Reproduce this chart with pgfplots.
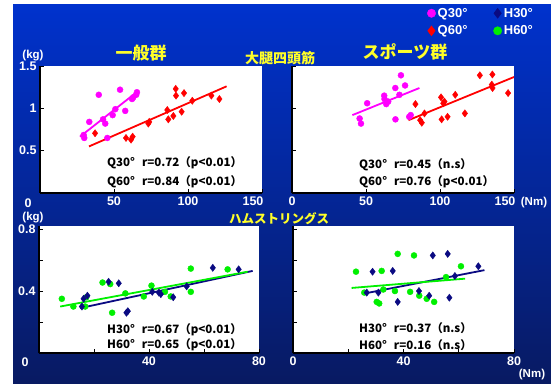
\documentclass[border=0pt]{standalone}
\usepackage{fontspec}
\setmainfont{Liberation Sans}
\newfontfamily\jp{Noto Sans CJK JP}
\usepackage{pgfplots}
\pgfplotsset{compat=1.18}
\definecolor{bgtop}{RGB}{0,50,205}
\definecolor{bgbot}{RGB}{8,26,98}
\definecolor{qa}{RGB}{255,0,255}
\definecolor{qb}{RGB}{255,0,0}
\definecolor{ha}{RGB}{10,10,130}
\definecolor{hb}{RGB}{0,240,0}
\definecolor{ttl}{RGB}{255,255,40}
\pgfplotsset{panel/.style={
  scale only axis, width=222pt, height=127pt,
  axis background/.style={fill=white},
  axis x line*=bottom, axis y line*=left,
  axis line style={black, line width=1.3pt, -},
  tick align=inside, major tick length=4pt, tick style={black, line width=0.9pt},
  ticklabel style={text=white, font=\bfseries\fontsize{12.5}{12.5}\selectfont},
  /pgf/number format/assume math mode=true,
  xmin=0, ymin=0,
},
pa/.style={only marks, mark=*, mark size=3pt, color=qa},
pb/.style={only marks, mark=diamond*, mark size=3.6pt, color=qb},
pc/.style={only marks, mark=diamond*, mark size=3.6pt, color=ha},
pd/.style={only marks, mark=*, mark size=3pt, color=hb},
}
\newcommand{\gap}{\hspace{7pt}}
\begin{document}
\begin{tikzpicture}[x=1pt,y=1pt]
\useasboundingbox (0pt,0pt) rectangle (551pt,383pt);
\fill[white] (0pt,0pt) rectangle (551pt,383pt);
\shade[top color=bgtop, bottom color=bgbot] (13pt,0pt) rectangle (551pt,378pt);

% Top-left: general group, quadriceps
\begin{axis}[panel, at={(40pt,190pt)}, anchor=south west, xmax=150, ymax=1.5,
  xtick={0,50,100,150}, xticklabels={,50,100,\hspace{-18pt}150},
  ytick={0,0.5,1,1.5}, yticklabels={,0.5,1,\raisebox{-4pt}{1.5}}]
\addplot[pa] coordinates {(29.5,0.685) (29.9,0.65) (33.3,0.84) (39.7,1.16) (42.6,0.87) (44.1,0.82) (45.5,0.65) (49.1,0.92) (50.9,0.99) (54.1,1.22) (57.6,0.97) (62.2,1.11) (63,1.13) (65,1.16) (65.5,1.19)};
\addplot[pb] coordinates {(37.2,0.705) (58.1,0.65) (61.5,0.63) (62.6,0.665) (73.2,0.82) (73.8,0.84) (86,0.98) (86.7,0.87) (90.1,0.91) (91.7,1.23) (91.9,1.15) (95.7,0.96) (97.3,1.18) (102.9,1.09) (115.8,1.15) (121.2,1.11)};
\addplot[qa, line width=1.8pt] coordinates {(27,0.665) (66,1.20)};
\addplot[qb, line width=1.8pt] coordinates {(33.1,0.55) (126.1,1.26)};
\end{axis}

% Top-right: sports group, quadriceps
\begin{axis}[panel, at={(292pt,190pt)}, anchor=south west, xmax=150, ymax=1.5,
  xtick={0,50,100,150}, xticklabels={0,50,100,\hspace{-18pt}150},
  ytick={0,0.5,1,1.5}, yticklabels={},
  legend columns=2,
  legend style={at={(0.595,1.49)}, anchor=north west, draw=none, fill=none,
    text=white, font=\bfseries\fontsize{13}{13}\selectfont,
    /tikz/every even column/.append style={column sep=24pt}, row sep=3pt}]
\addplot[pa, forget plot] coordinates {(45.7,0.88) (46.6,0.82) (50.8,1.06) (62.3,1.15) (62.5,1.11) (63.7,1.05) (65,1.08) (69.9,0.87) (69.8,1.24) (73.6,1.39) (76.4,1.27) (72.6,1.16) (80.2,0.92) (79.2,0.90)};
\addplot[pb, forget plot] coordinates {(83.4,1.05) (86.6,0.86) (87.7,0.83) (89.5,0.94) (100.7,1.13) (101.1,0.87) (102.2,1.06) (103,1.08) (105.1,0.9) (110.3,1.16) (116.8,0.94) (126.9,1.39) (135.4,1.40) (135,1.28) (135.5,1.24) (146,1.18)};
\addplot[qa, line width=1.8pt, forget plot] coordinates {(40.8,0.92) (86.1,1.24)};
\addplot[qb, line width=1.8pt, forget plot] coordinates {(78.7,0.86) (150,1.37)};
\addlegendimage{only marks, mark=*, mark size=4.2pt, color=qa}
\addlegendentry{Q30°}
\addlegendimage{only marks, mark=diamond*, mark size=5pt, color=ha}
\addlegendentry{H30°}
\addlegendimage{only marks, mark=diamond*, mark size=5pt, color=qb}
\addlegendentry{Q60°}
\addlegendimage{only marks, mark=*, mark size=4.2pt, color=hb}
\addlegendentry{H60°}
\end{axis}

% Bottom-left: general group, hamstrings
\begin{axis}[panel, at={(39pt,30pt)}, anchor=south west, width=220pt, xmax=80, ymax=0.82,
  xtick={0,20,40,60,80}, xticklabels={,,40,,80},
  ytick={0,0.2,0.4,0.6,0.8}, yticklabels={,,0.4,,\raisebox{-3pt}{0.8}}]
\addplot[pd] coordinates {(8.3,0.35) (12.5,0.30) (16.8,0.30) (17.2,0.36) (23.1,0.455) (25.9,0.445) (26.6,0.26) (31.4,0.385) (38.1,0.365) (40.9,0.435) (45.8,0.395) (47.9,0.365) (55.2,0.545) (55.2,0.395) (68.6,0.54)};
\addplot[pc] coordinates {(15.6,0.30) (16.2,0.35) (17.6,0.37) (25.3,0.46) (29,0.45) (31.8,0.26) (32.3,0.27) (41.2,0.395) (43.6,0.39) (44.3,0.38) (48.8,0.36) (53.7,0.43) (63.2,0.55) (72.6,0.54)};
\addplot[ha, line width=1.8pt] coordinates {(15,0.29) (77.7,0.53)};
\addplot[hb, line width=1.8pt] coordinates {(7.7,0.30) (75.9,0.525)};
\end{axis}

% Bottom-right: sports group, hamstrings
\begin{axis}[panel, at={(293pt,30pt)}, anchor=south west, width=221pt, xmax=80, ymax=0.82,
  xtick={0,20,40,60,80}, xticklabels={0,,40,,80},
  ytick={0,0.2,0.4,0.6,0.8}, yticklabels={}]
\addplot[pd] coordinates {(22.8,0.525) (25.8,0.39) (30.3,0.33) (31.2,0.32) (32.1,0.53) (32.7,0.41) (36.9,0.40) (37.9,0.64) (42.4,0.395) (43.8,0.63) (45.7,0.37) (48.4,0.35) (51.1,0.33) (55.4,0.49) (60.8,0.56)};
\addplot[pc] coordinates {(26.7,0.39) (28.8,0.525) (30.9,0.39) (36.1,0.53) (37.9,0.33) (45.6,0.40) (49.3,0.37) (50.6,0.63) (56,0.64) (56.6,0.357) (58.6,0.497) (67.1,0.56)};
\addplot[ha, line width=1.8pt] coordinates {(26.1,0.385) (69.3,0.535)};
\addplot[hb, line width=1.8pt] coordinates {(21.2,0.42) (62.3,0.48)};
\end{axis}

% Titles and labels
\node[text=ttl, font=\jp\bfseries\fontsize{17}{17}\selectfont] at (141pt,330pt) {一般群};
\node[text=ttl, font=\jp\bfseries\fontsize{17}{17}\selectfont] at (405pt,331pt) {スポーツ群};
\node[text=ttl, font=\jp\bfseries\fontsize{14}{14}\selectfont] at (280pt,325pt) {大腿四頭筋};
\node[text=ttl, font=\jp\bfseries\fontsize{12.5}{12.5}\selectfont] at (279pt,164pt) {ハムストリングス};
\node[text=white, font=\bfseries\fontsize{11.5}{11.5}\selectfont] at (33pt,327pt) {(kg)};
\node[text=white, font=\bfseries\fontsize{11.5}{11.5}\selectfont] at (33pt,165pt) {(kg)};
\node[text=white, font=\bfseries\fontsize{11.5}{11.5}\selectfont] at (534pt,180pt) {(Nm)};
\node[text=white, font=\bfseries\fontsize{11.5}{11.5}\selectfont] at (532pt,8pt) {(Nm)};
\node[text=white, font=\bfseries\fontsize{12.5}{12.5}\selectfont] at (28pt,180pt) {0};
\node[text=white, font=\bfseries\fontsize{12.5}{12.5}\selectfont] at (25pt,21pt) {0};

% Correlation annotations
\begin{scope}[every node/.style={anchor=west, text=black, font=\jp\bfseries\fontsize{11.5}{11.5}\selectfont, inner sep=0pt}]
\node at (107pt,220pt) {Q30°\gap r=0.72（p<0.01）};
\node at (107pt,201pt) {Q60°\gap r=0.84（p<0.01）};
\node at (359pt,218pt) {Q30°\gap r=0.45（n.s）};
\node at (359pt,201pt) {Q60°\gap r=0.76（p<0.01）};
\node at (107pt,53pt) {H30°\gap r=0.67（p<0.01）};
\node at (107pt,38pt) {H60°\gap r=0.65（p<0.01）};
\node at (359pt,55pt) {H30°\gap r=0.37（n.s）};
\node at (359pt,38pt) {H60°\gap r=0.16（n.s）};
\end{scope}
\end{tikzpicture}
\end{document}
